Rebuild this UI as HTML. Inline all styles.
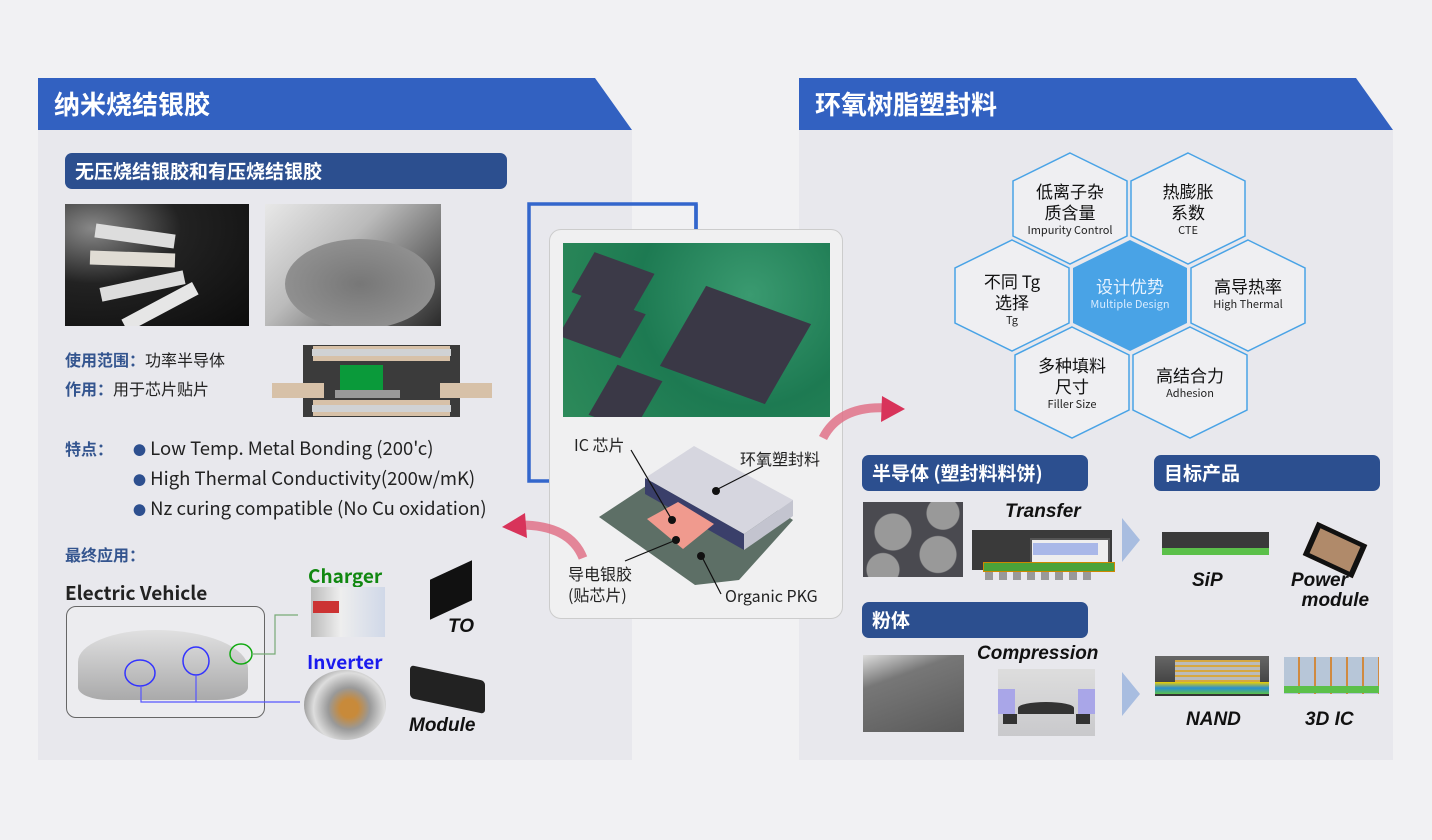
<!DOCTYPE html>
<html><head><meta charset="utf-8">
<style>
*{margin:0;padding:0;box-sizing:border-box}
body{width:1432px;height:840px;background:#f1f1f3;position:relative;overflow:hidden;font-family:"Noto Sans CJK SC","Liberation Sans",sans-serif;color:#222}
.a{position:absolute}
.panel{background:#e8e8ed}
.h1{color:#fff;font-size:26px;font-weight:bold;line-height:52px;padding-left:16px}
.sub{background:#2c4f8f;color:#fff;font-weight:bold;font-size:19px;border-radius:7px;line-height:36px;padding-left:10px}
.lbl{color:#34558f;font-weight:bold;font-size:16px}
.t{font-size:16px}
.bi{font-weight:bold;font-style:italic;font-size:19px;color:#111;font-family:"Liberation Sans",sans-serif}
.hx{position:absolute;width:120px;text-align:center;font-size:17px;line-height:21px;color:#111}
.hx small{display:block;font-size:11px;line-height:16px;color:#222}
</style></head><body>
<!-- left panel -->
<div class="a panel" style="left:38px;top:130px;width:594px;height:630px"></div>
<svg class="a" style="left:38px;top:78px" width="594" height="52"><polygon points="0,0 557,0 594,52 0,52" fill="#3261c1"/></svg>
<div class="a h1" style="left:38px;top:78px">纳米烧结银胶</div>
<div class="a sub" style="left:65px;top:153px;width:442px">无压烧结银胶和有压烧结银胶</div>
<div class="a" style="left:65px;top:204px;width:184px;height:122px;overflow:hidden;background:radial-gradient(ellipse at 15% 20%,#888 0%,#222 40%,#0c0c0c 100%)">
 <div class="a" style="left:30px;top:25px;width:80px;height:14px;background:#ddd;transform:rotate(8deg)"></div>
 <div class="a" style="left:25px;top:48px;width:85px;height:14px;background:#e0dcd4;transform:rotate(2deg)"></div>
 <div class="a" style="left:35px;top:75px;width:85px;height:14px;background:#ddd;transform:rotate(-12deg)"></div>
 <div class="a" style="left:55px;top:96px;width:80px;height:14px;background:#e6e6e6;transform:rotate(-28deg)"></div>
</div>
<div class="a" style="left:265px;top:204px;width:176px;height:122px;overflow:hidden;background:linear-gradient(135deg,#e8e8e8 0%,#bbb 40%,#8a8a8a 60%,#2a2a2a 100%)">
 <div class="a" style="left:20px;top:35px;width:150px;height:90px;border-radius:50%;background:radial-gradient(#777,#9a9a9a)"></div>
</div>
<div class="a lbl" style="left:65px;top:347px">使用范围：<span style="color:#222;font-weight:normal">功率半导体</span></div>
<div class="a lbl" style="left:65px;top:376px">作用：<span style="color:#222;font-weight:normal">用于芯片贴片</span></div>
<div class="a" style="left:303px;top:345px;width:157px;height:72px;background:#3b3b3b"></div>
<div class="a" style="left:313px;top:346px;width:137px;height:15px;background:#d7c1a8"></div>
<div class="a" style="left:312px;top:349px;width:139px;height:7px;background:#d0d2d4"></div>
<div class="a" style="left:340px;top:365px;width:43px;height:25px;background:#0a9a3a"></div>
<div class="a" style="left:335px;top:390px;width:65px;height:8px;background:#999"></div>
<div class="a" style="left:272px;top:383px;width:52px;height:15px;background:#d7c1a8"></div>
<div class="a" style="left:440px;top:383px;width:52px;height:15px;background:#d7c1a8"></div>
<div class="a" style="left:313px;top:400px;width:137px;height:16px;background:#d7c1a8"></div>
<div class="a" style="left:312px;top:405px;width:139px;height:7px;background:#d0d2d4"></div>
<div class="a lbl" style="left:65px;top:436px">特点：</div>
<div class="a" style="left:133px;top:434px;line-height:29px;font-size:18.5px;color:#222">
<div><span style="color:#2d4f8f;font-size:13px">●</span> Low Temp. Metal Bonding (200'c)</div>
<div><span style="color:#2d4f8f;font-size:13px">●</span> High Thermal Conductivity(200w/mK)</div>
<div><span style="color:#2d4f8f;font-size:13px">●</span> Nz curing compatible (No Cu oxidation)</div></div>
<div class="a lbl" style="left:65px;top:542px">最终应用：</div>
<div class="a" style="left:65px;top:579px;font-weight:bold;font-size:19px">Electric Vehicle</div>
<div class="a" style="left:66px;top:606px;width:199px;height:112px;border:1px solid #666;border-radius:10px;background:#ececef"></div>
<div class="a" style="left:78px;top:630px;width:170px;height:70px;border-radius:50% 60% 20% 20%;background:linear-gradient(#ddd,#999);opacity:.8"></div>
<svg class="a" style="left:0;top:0" width="1432" height="840">
 <ellipse cx="140" cy="673" rx="15" ry="13" fill="none" stroke="#33f" stroke-width="1.5"/>
 <ellipse cx="196" cy="661" rx="13" ry="14" fill="none" stroke="#33f" stroke-width="1.5"/>
 <ellipse cx="241" cy="654" rx="11" ry="10" fill="none" stroke="#1a1" stroke-width="1.5"/>
 <polyline points="141,686 141,702 300,702" fill="none" stroke="#55f" stroke-width="1.2"/>
 <line x1="196" y1="675" x2="196" y2="702" stroke="#55f" stroke-width="1.2"/>
 <polyline points="252,654 275,654 275,615 298,615" fill="none" stroke="#7a7" stroke-width="1.2"/>
</svg>
<div class="a" style="left:308px;top:562px;font-weight:bold;font-size:19px;color:#118811">Charger</div>
<div class="a" style="left:311px;top:587px;width:74px;height:50px;background:linear-gradient(90deg,#bbb,#eee 40%,#d0d8e8)"><div class="a" style="left:2px;top:14px;width:26px;height:12px;background:#c33"></div></div>
<div class="a" style="left:307px;top:648px;font-weight:bold;font-size:19px;color:#1a1aee">Inverter</div>
<div class="a" style="left:304px;top:670px;width:82px;height:70px;border-radius:50%;background:radial-gradient(circle at 55% 55%,#c88a3a 0%,#c88a3a 15%,#999 35%,#ddd 60%,#444 100%)"></div>
<div class="a" style="left:430px;top:570px;width:42px;height:40px;background:#111;transform:skewY(-25deg)"></div>
<div class="a bi" style="left:448px;top:616px">TO</div>
<div class="a" style="left:410px;top:673px;width:75px;height:33px;background:#222;transform:skewY(12deg);border-radius:4px"></div>
<div class="a bi" style="left:409px;top:715px">Module</div>

<!-- right panel -->
<div class="a panel" style="left:799px;top:130px;width:594px;height:630px"></div>
<svg class="a" style="left:799px;top:78px" width="594" height="52"><polygon points="0,0 557,0 594,52 0,52" fill="#3261c1"/></svg>
<div class="a h1" style="left:799px;top:78px">环氧树脂塑封料</div>
<svg class="a" style="left:0;top:0" width="1432" height="840">
 <g stroke="#49a3e6" stroke-width="1.5" fill="#efeff2">
  <polygon points="1070,153 1127,181 1127,236 1070,264 1013,236 1013,181"/>
  <polygon points="1188,153 1245,181 1245,236 1188,264 1131,236 1131,181"/>
  <polygon points="1012,240 1069,268 1069,323 1012,351 955,323 955,268"/>
  <polygon points="1248,240 1305,268 1305,323 1248,351 1191,323 1191,268"/>
  <polygon points="1072,327 1129,355 1129,410 1072,438 1015,410 1015,355"/>
  <polygon points="1190,327 1247,355 1247,410 1190,438 1133,410 1133,355"/>
 </g>
 <polygon points="1130,240 1187,268 1187,323 1130,351 1073,323 1073,268" fill="#49a3e6"/>
 <polygon points="1122,518 1140,540 1122,562" fill="#a8bde0"/>
 <polygon points="1122,672 1140,694 1122,716" fill="#a8bde0"/>
</svg>
<div class="hx" style="left:1010px;top:180px">低离子杂<br>质含量<small>Impurity Control</small></div>
<div class="hx" style="left:1128px;top:180px">热膨胀<br>系数<small>CTE</small></div>
<div class="hx" style="left:952px;top:270px">不同 Tg<br>选择<small>Tg</small></div>
<div class="hx" style="left:1070px;top:275px;color:#e8f3ff">设计优势<small style="color:#d8ebff">Multiple Design</small></div>
<div class="hx" style="left:1188px;top:275px">高导热率<small>High Thermal</small></div>
<div class="hx" style="left:1012px;top:354px">多种填料<br>尺寸<small>Filler Size</small></div>
<div class="hx" style="left:1130px;top:364px">高结合力<small>Adhesion</small></div>

<div class="a sub" style="left:862px;top:455px;width:226px">半导体 (塑封料料饼)</div>
<div class="a sub" style="left:1154px;top:455px;width:226px">目标产品</div>
<div class="a sub" style="left:862px;top:602px;width:226px">粉体</div>
<div class="a" style="left:863px;top:502px;width:100px;height:75px;background:radial-gradient(circle at 30% 40%,#999 0 18px,transparent 19px),radial-gradient(circle at 75% 70%,#999 0 18px,transparent 19px),radial-gradient(circle at 80% 15%,#999 0 16px,transparent 17px),radial-gradient(circle at 20% 90%,#999 0 16px,transparent 17px),#4a4a50"></div>
<div class="a bi" style="left:1005px;top:501px">Transfer</div>
<div class="a" style="left:972px;top:530px;width:140px;height:40px;background:#3a3a3a"></div>
<div class="a" style="left:1030px;top:538px;width:80px;height:28px;border:2px solid #555;background:#eee"></div>
<div class="a" style="left:1033px;top:543px;width:65px;height:12px;background:#a9b8e8"></div>
<div class="a" style="left:983px;top:562px;width:132px;height:10px;background:#4aa23a;border:1px solid #c80"></div>
<div class="a" style="left:985px;top:572px;width:110px;height:8px;background:repeating-linear-gradient(90deg,#999 0 8px,transparent 8px 14px)"></div>
<div class="a" style="left:863px;top:655px;width:101px;height:77px;background:linear-gradient(160deg,#ddd 0%,#777 30%,#5a5a5a 100%)"></div>
<div class="a bi" style="left:977px;top:643px">Compression</div>
<div class="a" style="left:998px;top:669px;width:97px;height:67px;background:linear-gradient(#ddd,#c9c9cc)"></div>
<div class="a" style="left:998px;top:689px;width:17px;height:25px;background:#a9a6e8"></div>
<div class="a" style="left:1078px;top:689px;width:17px;height:25px;background:#a9a6e8"></div>
<div class="a" style="left:1018px;top:702px;width:56px;height:12px;background:#333;border-radius:50% 50% 0 0"></div>
<div class="a" style="left:1003px;top:714px;width:14px;height:10px;background:#333"></div>
<div class="a" style="left:1076px;top:714px;width:14px;height:10px;background:#333"></div>
<div class="a" style="left:1162px;top:532px;width:107px;height:23px;background:#3a3a3a"></div>
<div class="a" style="left:1162px;top:548px;width:107px;height:7px;background:#5bc04a"></div>
<div class="a bi" style="left:1192px;top:570px">SiP</div>
<div class="a" style="left:1310px;top:530px;width:50px;height:40px;background:#b08a6a;border:5px solid #111;transform:skewY(25deg) skewX(-20deg)"></div>
<div class="a bi" style="left:1291px;top:571px;line-height:20px">Power<br>&nbsp;&nbsp;module</div>
<div class="a" style="left:1155px;top:656px;width:114px;height:40px;background:linear-gradient(#666,#333)"></div>
<div class="a" style="left:1175px;top:660px;width:85px;height:24px;background:repeating-linear-gradient(#d7a840 0 2px,#bbb 2px 5px)"></div>
<div class="a" style="left:1155px;top:682px;width:114px;height:12px;background:linear-gradient(#f0d000,#2a8fd0,#5bc04a)"></div>
<div class="a bi" style="left:1186px;top:709px">NAND</div>
<div class="a" style="left:1284px;top:657px;width:95px;height:37px;background:repeating-linear-gradient(90deg,#b7c6d8 0 14px,#d08a40 14px 16px)"></div>
<div class="a" style="left:1284px;top:686px;width:95px;height:7px;background:#5bc04a"></div>
<div class="a bi" style="left:1305px;top:709px">3D IC</div>

<!-- center card (on top) -->
<svg class="a" style="left:0;top:0" width="1432" height="840">
 <polyline points="696,229 696,204 529,204 529,481 600,481" fill="none" stroke="#3366cc" stroke-width="3.5"/>
 <polygon points="596,474 614,481 596,488" fill="#3366cc"/>
</svg>
<div class="a" style="left:549px;top:229px;width:294px;height:390px;border:1px solid #ccc;border-radius:12px;background:#f0f0f1"></div>
<svg class="a" style="left:0;top:0" width="1432" height="840">
 <polyline points="696,229 696,204" fill="none" stroke="#3366cc" stroke-width="3.5"/>
</svg>
<div class="a" style="left:563px;top:243px;width:267px;height:174px;overflow:hidden;background:radial-gradient(circle at 70% 30%,#3a9a70,#1d7a52 50%,#2d8a5a)">
 <div class="a" style="left:20px;top:20px;width:60px;height:40px;background:#3c3a48;transform:skew(-30deg,20deg)"></div>
 <div class="a" style="left:8px;top:60px;width:62px;height:44px;background:#3c3a48;transform:skew(-30deg,20deg)"></div>
 <div class="a" style="left:120px;top:62px;width:105px;height:80px;background:#3a3846;transform:skew(-30deg,20deg)"></div>
 <div class="a" style="left:40px;top:130px;width:45px;height:50px;background:#3a3846;transform:skew(-30deg,20deg)"></div>
</div>
<svg class="a" style="left:0;top:0" width="1432" height="840">
 <polygon points="599,517 693,455 793,520 739,580 695,585" fill="#5d6f66"/>
 <polygon points="645,478 694,446 793,500 744,534" fill="#d6d6df"/>
 <polygon points="645,478 744,534 744,550 645,494" fill="#3a3f6a"/>
 <polygon points="744,534 793,500 793,516 744,550" fill="#c3c4cf"/>
 <polygon points="647,519 678,502 714,524 683,549" fill="#f09a8e"/>
 <g stroke="#111" stroke-width="1.2"><line x1="631" y1="450" x2="672" y2="520"/><line x1="625" y1="561" x2="676" y2="540"/><line x1="716" y1="490" x2="763" y2="466"/><line x1="701" y1="555" x2="721" y2="594"/></g>
 <g fill="#111"><circle cx="672" cy="520" r="4"/><circle cx="676" cy="540" r="4"/><circle cx="716" cy="491" r="4"/><circle cx="701" cy="556" r="4"/></g>
 <path d="M583,558 Q570,525 520,525" fill="none" stroke="#e06a82" stroke-width="9" opacity=".8"/>
 <polygon points="502,527 525,513 527,538" fill="#d8335a"/>
 <path d="M823,438 Q840,405 888,408" fill="none" stroke="#e06a82" stroke-width="9" opacity=".8"/>
 <polygon points="905,409 882,396 881,422" fill="#d8335a"/>
</svg>
<div class="a t" style="left:574px;top:432px">IC 芯片</div>
<div class="a t" style="left:740px;top:446px">环氧塑封料</div>
<div class="a t" style="left:568px;top:563px;line-height:21px">导电银胶<br>(贴芯片)</div>
<div class="a t" style="left:725px;top:583px">Organic PKG</div>
</body></html>
